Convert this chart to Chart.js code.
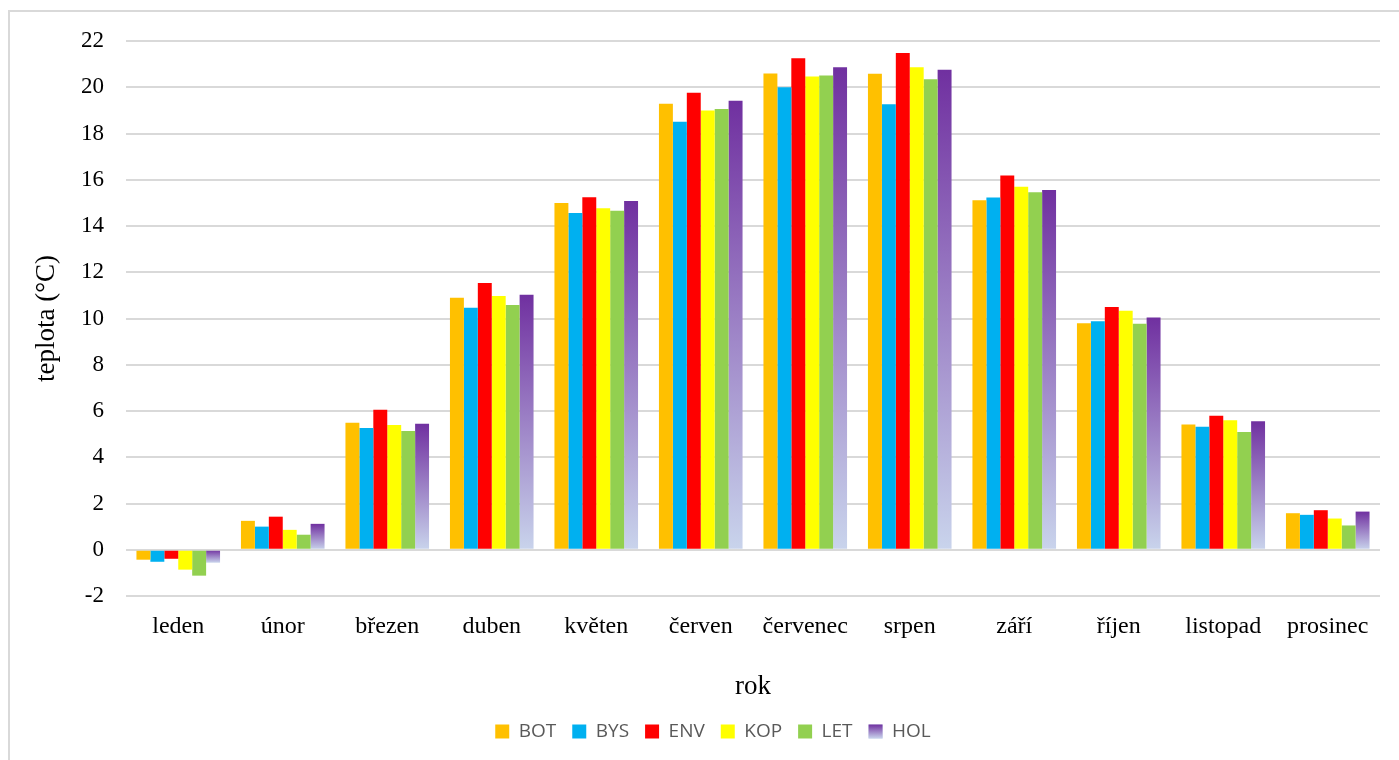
<!DOCTYPE html>
<html>
<head>
<meta charset="utf-8">
<script src="https://cdn.jsdelivr.net/npm/chart.js@4"></script>
<style>
  body { margin: 0; background: #fff; }
  #wrap { position: relative; width: 1399px; height: 760px; overflow: hidden; }
  #frame { position: absolute; left: 8px; top: 10px; width: 1500px; height: 800px;
           border-left: 2px solid #d9d9d9; border-top: 2px solid #d9d9d9; }
  #myChart { position: absolute; left: 0; top: 0; }
</style>
</head>
<body>
<div id="wrap">
  <div id="frame"></div>
  <canvas id="myChart" width="1399" height="760"></canvas>
</div>
<script>
// setup block
const labels = ['leden', 'únor', 'březen', 'duben', 'květen', 'červen',
    'červenec', 'srpen', 'září', 'říjen', 'listopad', 'prosinec'];

const BOT = [-0.43, 1.25, 5.49, 10.9, 15.0, 19.29, 20.6, 20.58, 15.11, 9.8, 5.42, 1.58];
const BYS = [-0.52, 1.0, 5.27, 10.47, 14.56, 18.51, 20.0, 19.26, 15.23, 9.88, 5.32, 1.51];
const ENV = [-0.39, 1.43, 6.05, 11.53, 15.24, 19.76, 21.25, 21.48, 16.18, 10.5, 5.79, 1.71];
const KOP = [-0.86, 0.86, 5.4, 10.97, 14.77, 18.99, 20.47, 20.87, 15.7, 10.33, 5.6, 1.35];
const LET = [-1.12, 0.65, 5.14, 10.58, 14.66, 19.06, 20.51, 20.35, 15.46, 9.77, 5.09, 1.05];
const HOL = [-0.56, 1.12, 5.45, 11.03, 15.08, 19.42, 20.87, 20.76, 15.56, 10.04, 5.56, 1.65];

const yTicks = [-2, 0, 2, 4, 6, 8, 10, 12, 14, 16, 18, 20, 22];

const serif = '"Liberation Serif", "Times New Roman", serif';

// HOL bars: purple at the top fading to light blue at the bottom of each bar
function holFill(c) {
    const chart = c.chart;
    const y = chart.scales.y;
    if (!chart.chartArea || !y || c.dataIndex === undefined) return '#7030A0';
    const p0 = y.getPixelForValue(0);
    const p1 = y.getPixelForValue(c.raw);
    const top = Math.min(p0, p1), bot = Math.max(p0, p1);
    if (bot - top < 1) return '#7030A0';
    const g = chart.ctx.createLinearGradient(0, top, 0, bot);
    g.addColorStop(0, '#7030A0');
    g.addColorStop(1, '#C9D4EC');
    return g;
}

function ds(label, values, color) {
    return { label: label, data: values, backgroundColor: color, borderWidth: 0 };
}

const data = {
    labels: labels,
    datasets: [
        ds('BOT', BOT, '#FFC000'),
        ds('BYS', BYS, '#00B0F0'),
        ds('ENV', ENV, '#FF0000'),
        ds('KOP', KOP, '#FFFF00'),
        ds('LET', LET, '#92D050'),
        ds('HOL', HOL, holFill)
    ]
};

// legend box for HOL gets the same fade
const legendFade = {
    id: 'legendFade',
    afterDraw(chart) {
        const lg = chart.legend;
        if (!lg || !lg.legendHitBoxes || !lg.legendHitBoxes[5]) return;
        const hb = lg.legendHitBoxes[5];
        const bw = lg.options.labels.boxWidth, bh = lg.options.labels.boxHeight;
        const y0 = hb.top + (hb.height - bh) / 2;
        const ctx = chart.ctx;
        const g = ctx.createLinearGradient(0, y0, 0, y0 + bh);
        g.addColorStop(0, '#7030A0');
        g.addColorStop(1, '#C9D4EC');
        ctx.save();
        ctx.fillStyle = g;
        ctx.fillRect(hb.left, y0, bw, bh);
        ctx.restore();
    }
};

//config block
const config = {
    type: 'bar',
    data: data,
    plugins: [legendFade],
    options: {
        responsive: false,
        animation: false,
        layout: { padding: { top: 41, right: 19, bottom: 9, left: 46 } },
        datasets: { bar: { categoryPercentage: 0.8, barPercentage: 1.0 } },
        plugins: {
            legend: {
                position: 'bottom',
                labels: {
                    boxWidth: 14,
                    boxHeight: 14,
                    padding: 16,
                    color: '#595959',
                    font: { family: '"Open Sans", "Liberation Sans", sans-serif', size: 19 }
                }
            },
            tooltip: { enabled: false }
        },
        scales: {
            x: {
                grid: { display: false, drawTicks: false },
                border: { display: false },
                ticks: { color: '#000', padding: 16, font: { family: serif, size: 24 } },
                title: { display: true, text: 'rok', color: '#000',
                         font: { family: serif, size: 27 }, padding: { top: 0, bottom: 3 } },
                afterFit: s => { s.height = 110; }
            },
            y: {
                min: -2,
                max: 22,
                afterBuildTicks: s => { s.ticks = yTicks.map(v => ({ value: v })); },
                grid: { color: '#d9d9d9', lineWidth: 2, drawTicks: false },
                border: { display: false },
                ticks: { color: '#000', padding: 22, font: { family: serif, size: 23 } },
                title: { display: true, text: 'teplota (°C)', color: '#000',
                         font: { family: serif, size: 27 }, padding: { top: -15, bottom: 0 } },
                afterFit: s => { s.width = 80; }
            }
        }
    }
};

//render block
const myChart = new Chart(document.getElementById('myChart'), config);
</script>
</body>
</html>
